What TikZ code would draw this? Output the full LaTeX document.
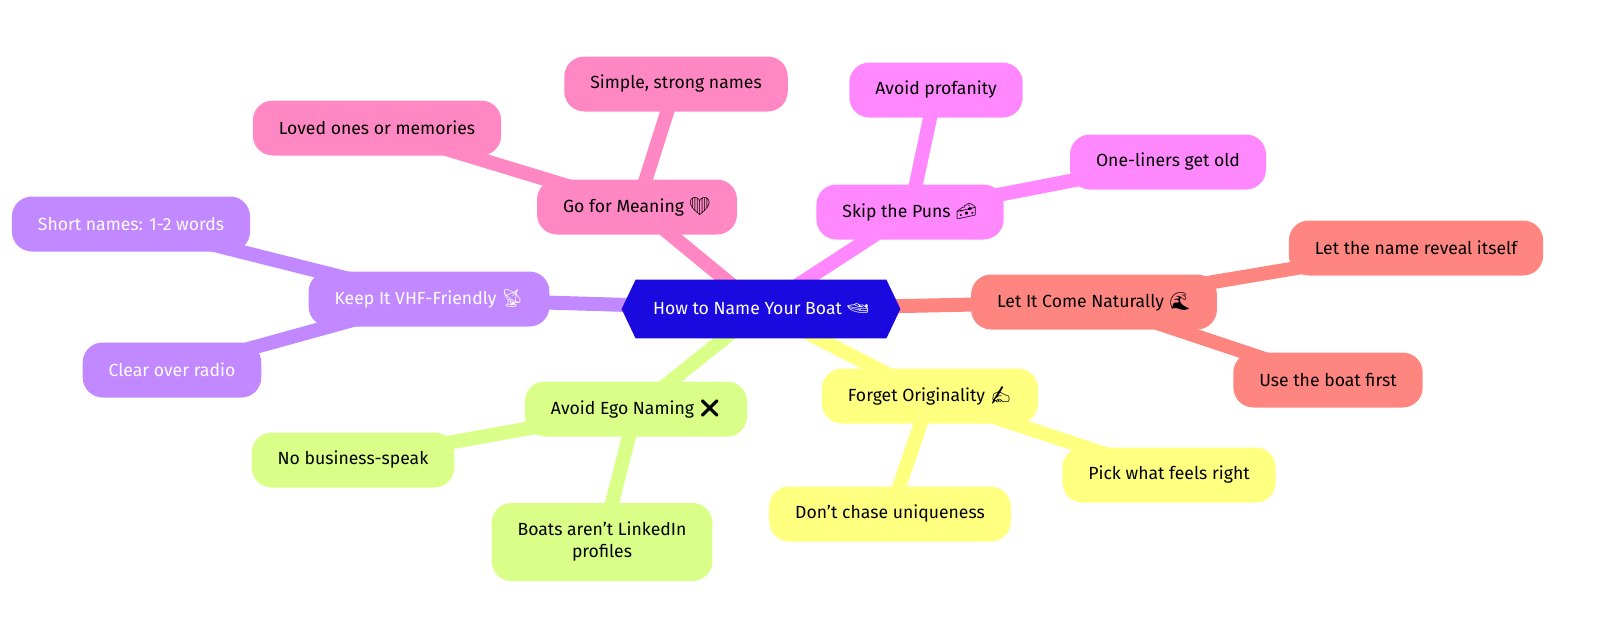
\documentclass[tikz,border=0pt]{standalone}
\usepackage{fontspec}
\setmainfont{Fira Sans}
\newfontfamily\emo{Noto Emoji}
\usetikzlibrary{calc}
\definecolor{cRoot}{HTML}{1A0AE0}
\definecolor{cPink}{HTML}{FF88C4}
\definecolor{cMag}{HTML}{FF88FF}
\definecolor{cRed}{HTML}{FF8680}
\definecolor{cYel}{HTML}{FFFF80}
\definecolor{cGrn}{HTML}{D9FF88}
\definecolor{cPur}{HTML}{C288FF}
\tikzset{
 box/.style={rounded corners=10pt,inner xsep=13pt,minimum height=27.5pt,align=center,font=\fontsize{8.8}{11}\selectfont},
 edge/.style={line width=7pt}
}
\begin{document}
\begin{tikzpicture}[x=0.5pt,y=-0.5pt]
\useasboundingbox (0,0) rectangle (1600,637);
\coordinate (rootC) at (761,309);
\coordinate (mC) at (637,207);
\coordinate (m1C) at (676,84);
\coordinate (m2C) at (377,128);
\coordinate (pC) at (910,212);
\coordinate (p1C) at (936,90);
\coordinate (p2C) at (1168,162);
\coordinate (nC) at (1094,302);
\coordinate (n1C) at (1416,248);
\coordinate (n2C) at (1328,380);
\coordinate (oC) at (930,396);
\coordinate (o1C) at (890,514);
\coordinate (o2C) at (1169,475);
\coordinate (eC) at (636,409);
\coordinate (e1C) at (353,460);
\coordinate (e2C) at (602,542);
\coordinate (vC) at (429,299);
\coordinate (v1C) at (131,224);
\coordinate (v2C) at (172,370);
\draw[edge,cPink] (rootC) -- (mC) (mC) -- (m1C) (mC) -- (m2C);
\draw[edge,cMag] (rootC) -- (pC) (pC) -- (p1C) (pC) -- (p2C);
\draw[edge,cRed] (rootC) -- (nC) (nC) -- (n1C) (nC) -- (n2C);
\draw[edge,cYel] (rootC) -- (oC) (oC) -- (o1C) (oC) -- (o2C);
\draw[edge,cGrn] (rootC) -- (eC) (eC) -- (e1C) (eC) -- (e2C);
\draw[edge,cPur] (rootC) -- (vC) (vC) -- (v1C) (vC) -- (v2C);

\node[inner sep=0,minimum width=125pt,minimum height=29pt] (root) at (rootC) {};
\fill[cRoot] (root.north west) -- (root.north east) -- ($(root.east)+(7pt,0)$) -- (root.south east) -- (root.south west) -- ($(root.west)+(-7pt,0)$) -- cycle;
\node[inner sep=0,text=white,font=\fontsize{8.8}{11}\selectfont] (rootT) at (root) {How to Name Your Boat {\emo 🚤}};

\node[box,fill=cPink] (m) at (mC) {Go for Meaning {\emo ❤}};
\node[box,fill=cPink] (m1) at (m1C) {Simple, strong names};
\node[box,fill=cPink] (m2) at (m2C) {Loved ones or memories};
\node[box,fill=cMag] (p) at (pC) {Skip the Puns {\emo 🧀}};
\node[box,fill=cMag] (p1) at (p1C) {Avoid profanity};
\node[box,fill=cMag] (p2) at (p2C) {One-liners get old};
\node[box,fill=cRed] (n) at (nC) {Let It Come Naturally {\emo 🌊}};
\node[box,fill=cRed] (n1) at (n1C) {Let the name reveal itself};
\node[box,fill=cRed] (n2) at (n2C) {Use the boat first};
\node[box,fill=cYel] (o) at (oC) {Forget Originality {\emo ✍}};
\node[box,fill=cYel] (o1) at (o1C) {Don't chase uniqueness};
\node[box,fill=cYel] (o2) at (o2C) {Pick what feels right};
\node[box,fill=cGrn] (e) at (eC) {Avoid Ego Naming {\emo ❌}};
\node[box,fill=cGrn] (e1) at (e1C) {No business-speak};
\node[box,fill=cGrn,minimum height=39pt] (e2) at (e2C) {Boats aren't LinkedIn\\profiles};
\node[box,fill=cPur,text=white] (v) at (vC) {Keep It VHF-Friendly {\emo 📡}};
\node[box,fill=cPur,text=white] (v1) at (v1C) {Short names: 1-2 words};
\node[box,fill=cPur,text=white] (v2) at (v2C) {Clear over radio};
\end{tikzpicture}
\end{document}
